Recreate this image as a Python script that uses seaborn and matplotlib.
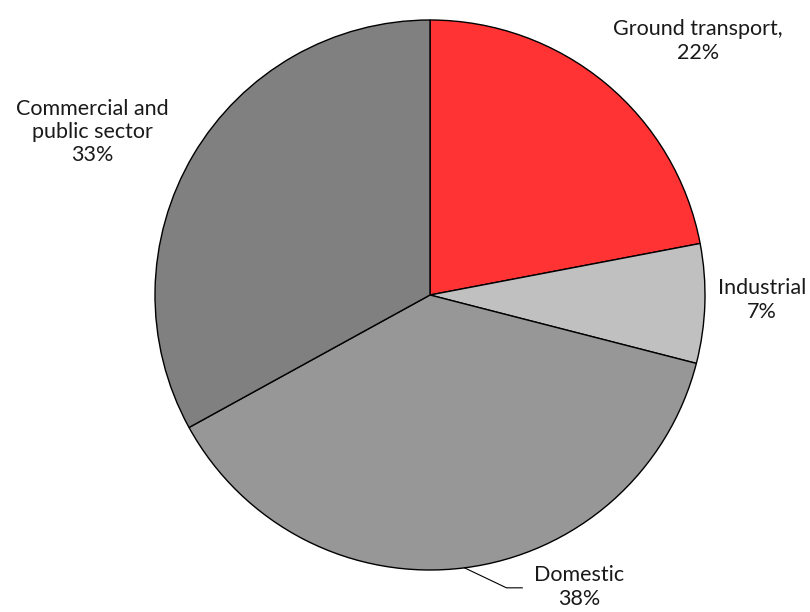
import numpy as np
import matplotlib
matplotlib.use("Agg")
import matplotlib.pyplot as plt
import seaborn as sns

sectors = ["Ground transport,", "Industrial", "Domestic", "Commercial and\npublic sector"]
shares = [22, 7, 38, 33]
colors = ["#FF3333", "#C0C0C0", "#979797", "#808080"]

sns.set_theme(style="white")
plt.rcParams["font.family"] = ["Lato", "DejaVu Sans"]

W, H = 810, 612
fig = plt.figure(figsize=(W / 100, H / 100), dpi=100)
ax = fig.add_axes([0, 0, 1, 1])

cx, cy, r = 430, 317, 275
wedges, _ = ax.pie(
    shares, colors=colors, startangle=90, counterclock=False,
    center=(cx, cy), radius=r, frame=True,
    wedgeprops=dict(edgecolor="black", linewidth=1.0),
)
ax.set_xlim(0, W)
ax.set_ylim(0, H)
ax.set_axis_off()

fs = 15.5
label_pos = [(698, 571), (762, 312), (579, 25), (92, 480)]
for name, val, (tx, ty) in zip(sectors, shares, label_pos):
    ax.text(tx, ty, f"{name}\n{val}%", ha="center", va="center",
            fontsize=fs, color="#1a1a1a", linespacing=1.2)

# leader line for the Domestic slice, from the middle of its arc
w = wedges[2]
mid = np.deg2rad((w.theta1 + w.theta2) / 2)
ax0, ay0 = cx + r * np.cos(mid), cy + r * np.sin(mid)
ax.plot([ax0, ax0 + 42, ax0 + 58], [ay0, ay0 - 20, ay0 - 20],
        color="black", linewidth=0.8)

fig.savefig("out.png", dpi=100)
